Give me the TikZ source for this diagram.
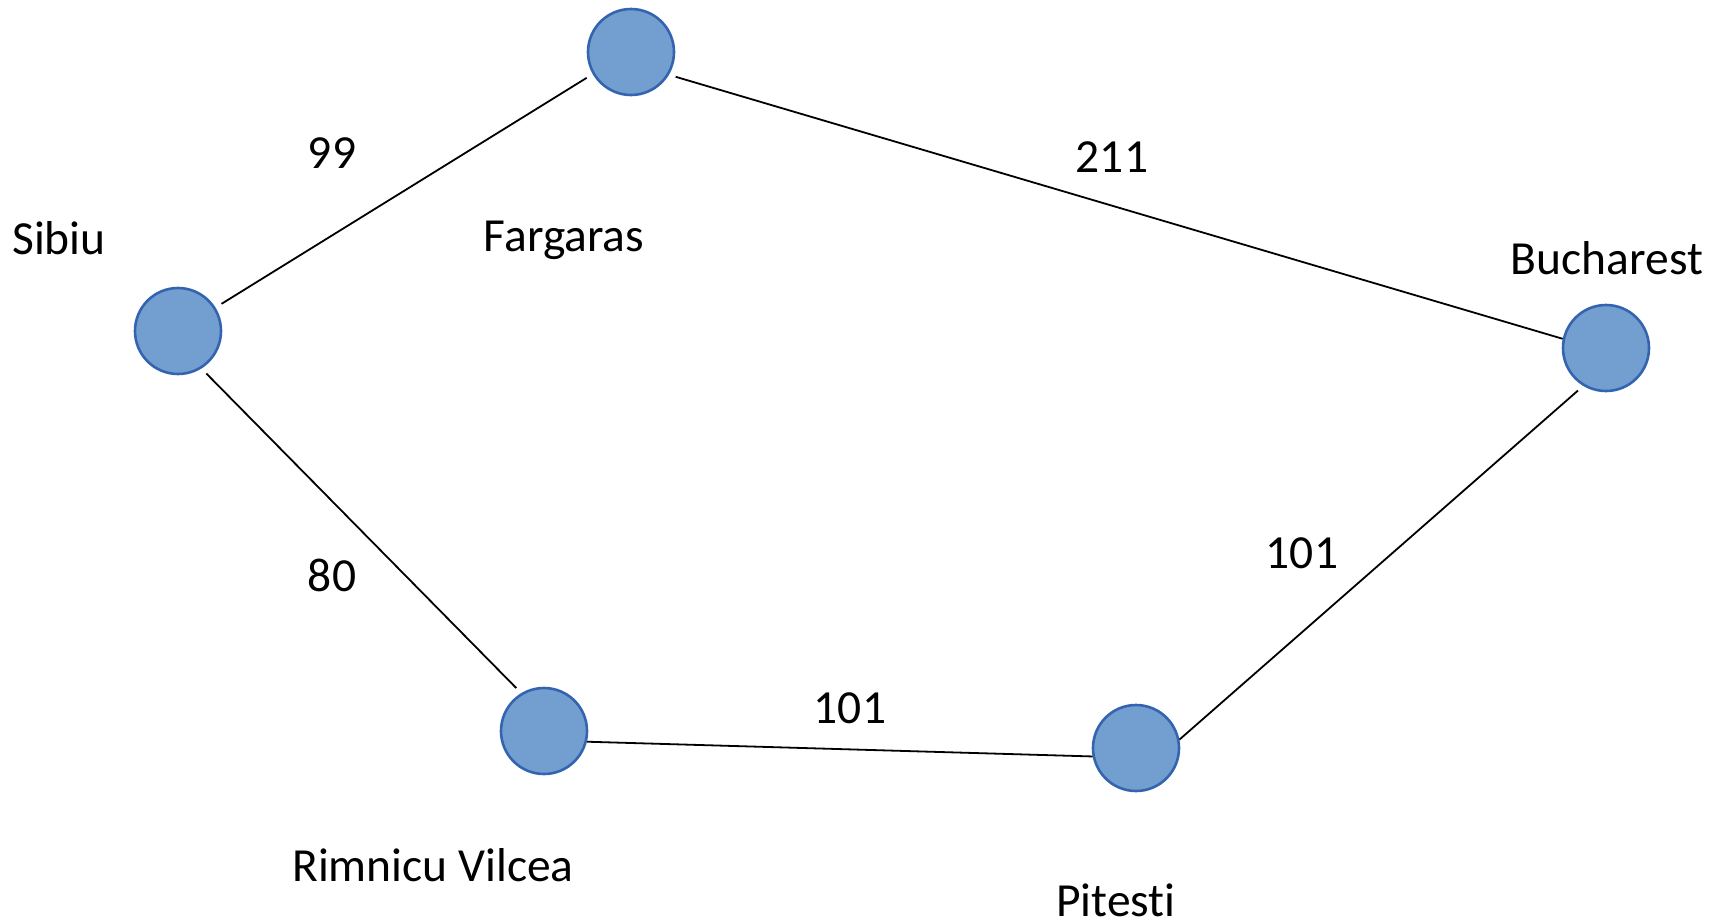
\documentclass[tikz,border=0pt]{standalone}
\usepackage{fontspec}
\setmainfont[Ligatures=NoCommon]{Carlito}
\definecolor{cityfill}{RGB}{114,159,207}
\definecolor{cityline}{RGB}{52,100,175}
\begin{document}
\begin{tikzpicture}[x=1pt,y=-1pt,
  city/.style={circle,fill=cityfill,draw=cityline,line width=2.6pt,minimum size=86pt,inner sep=0pt,outer sep=1.3pt},
  road/.style={draw=black,line width=1.8pt},
  gapa/.style={shorten <=7pt},
  gapb/.style={shorten >=7pt},
  lbl/.style={font=\fontsize{47.5}{57}\selectfont,inner sep=0pt}]
\useasboundingbox (0,0) rectangle (1733,924);
% cities
\node[city] (sib) at (178,331) {};
\node[city] (fag) at (631,52) {};
\node[city] (buc) at (1606,348) {};
\node[city] (rim) at (544,731) {};
\node[city] (pit) at (1136,748) {};
% roads
\draw[road,gapa,gapb] (sib.32) -- (fag.210);
\draw[road,gapa] (fag.-31) -- (buc.168);
\draw[road,gapa,gapb] (sib.-58) -- (rim.121);
\draw[road] (rim.-14) -- (pit.191);
\draw[road,gapb] (pit.11) -- (buc.239);
% city names
\node[lbl] (tsib) at (59,238) {Sibiu};
\node[lbl] (tfag) at (564,240) {Fargaras};
\node[lbl] (tbuc) at (1607,258) {Bucharest};
\node[lbl] (trim) at (433,865) {Rimnicu Vilcea};
\node[lbl] (tpit) at (1116,900) {Pitesti};
% distances
\node[lbl] (d1) at (332,153) {99};
\node[lbl] (d2) at (1112,157) {211};
\node[lbl] (d3) at (332,575) {80};
\node[lbl] (d4) at (850,708) {101};
\node[lbl] (d5) at (1302,553) {101};
\end{tikzpicture}
\end{document}
